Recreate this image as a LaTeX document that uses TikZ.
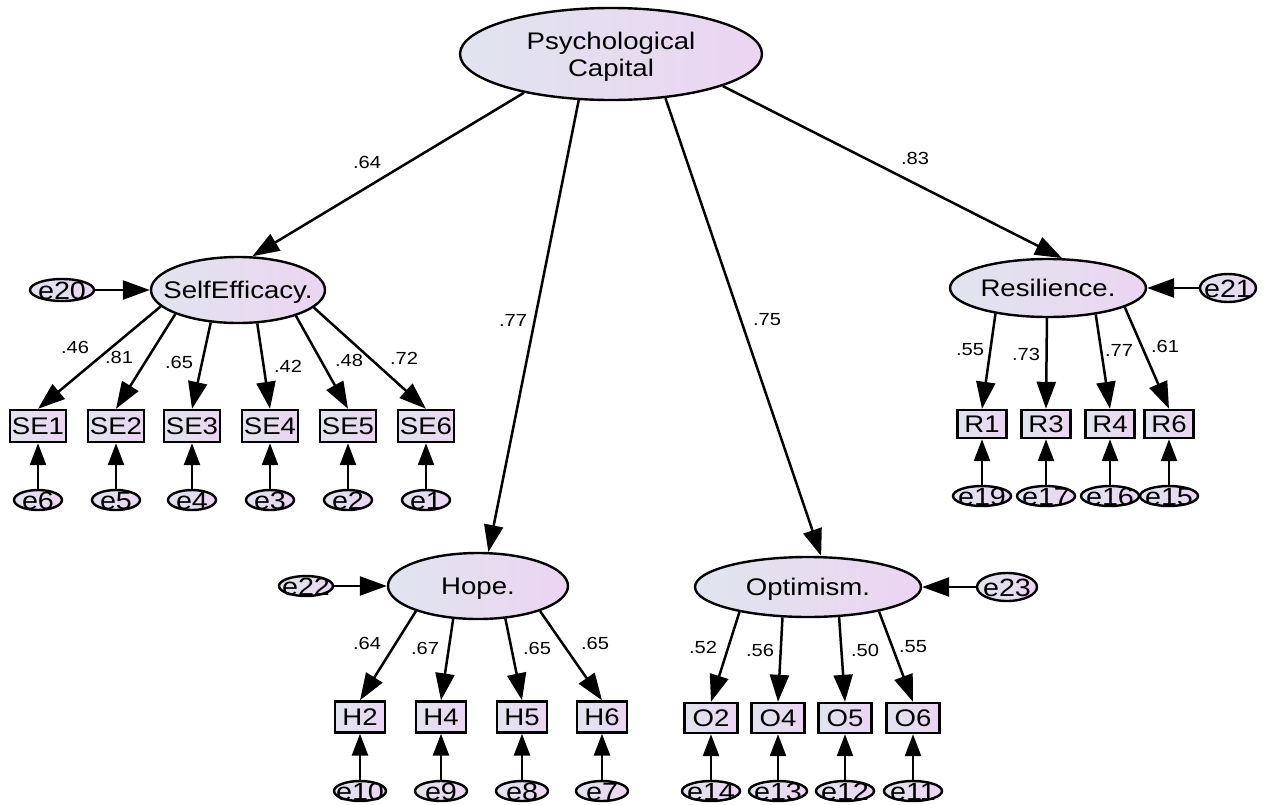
\documentclass[tikz,border=0pt]{standalone}
\usepackage{fontspec}
\setmainfont{Liberation Sans}[FakeStretch=1.15]
\usetikzlibrary{shapes.geometric,arrows.meta}
\definecolor{cA}{RGB}{224,229,238}
\definecolor{cB}{RGB}{236,212,242}
\tikzset{
  grad/.style={left color=cA, right color=cB},
  latlbl/.style={font=\fontsize{24}{24}\selectfont, inner sep=0pt, text height=17pt, text depth=0pt},
  errlbl/.style={font=\fontsize{25}{25}\selectfont, inner sep=0pt, text height=18pt, text depth=0pt},
  lat/.style={ellipse, draw, line width=2.4pt, grad, inner sep=0pt, label={[latlbl]center:#1}},
  err/.style={ellipse, draw, line width=2.4pt, grad, inner sep=0pt, label={[errlbl]center:#1}},
  obs/.style={rectangle, draw, line width=2.4pt, grad, inner sep=0pt, font=\fontsize{24}{24}\selectfont, text height=17pt, text depth=0pt},
  coef/.style={font=\fontsize{17.5}{17.5}\selectfont, inner sep=0pt},
  larr/.style={line width=2.5pt, -{Triangle[length=27pt,width=19pt]}},
  earr/.style={line width=2.5pt, -{Triangle[length=22pt,width=16pt]}},
  seerr/.style={err=#1, minimum width=48pt, minimum height=20pt},
  rerr/.style={err=#1, minimum width=58pt, minimum height=20pt},
  herr/.style={err=#1, minimum width=52pt, minimum height=20pt},
  oerr/.style={err=#1, minimum width=58pt, minimum height=20pt},
  sebox/.style={obs, minimum width=56pt, minimum height=32pt},
  rbox/.style={obs, minimum width=49pt, minimum height=28pt},
  hbox/.style={obs, minimum width=50pt, minimum height=31pt},
  obox/.style={obs, minimum width=53pt, minimum height=30pt}
}
\begin{document}
\begin{tikzpicture}[x=1pt,y=-1pt]
\useasboundingbox (0,0) rectangle (1264,804);
\path[fill=white] (0,0) rectangle (1264,804);

% second-order factor
\node[ellipse, draw, line width=2.4pt, grad, inner sep=0pt, minimum width=302pt, minimum height=92pt,
      label={[font=\fontsize{24}{27}\selectfont, inner sep=0pt, align=center, yshift=-3pt]center:Psychological\\Capital}] (pc) at (611,54) {};

% first-order factors
\node[lat={SelfEfficacy.}, minimum width=174pt, minimum height=66pt] (sef) at (238,290) {};
\node[lat={Resilience.}, minimum width=196pt, minimum height=58pt] (res) at (1048,288) {};
\node[lat={Hope.}, minimum width=180pt, minimum height=66pt] (hope) at (478,586) {};
\node[lat={Optimism.}, minimum width=226pt, minimum height=60pt] (opt) at (808,587) {};

% disturbances
\node[err=e20, minimum width=64pt, minimum height=22pt] (e20) at (62,290) {};
\node[err=e21, minimum width=56pt, minimum height=28pt] (e21) at (1228,288) {};
\node[err=e22, minimum width=54pt, minimum height=20pt] (e22) at (306,586) {};
\node[err=e23, minimum width=60pt, minimum height=28pt] (e23) at (1007,587) {};

% SE indicators
\node[sebox] (SE1) at (38,426) {SE1};
\node[sebox] (SE2) at (116,426) {SE2};
\node[sebox] (SE3) at (192,426) {SE3};
\node[sebox] (SE4) at (270,426) {SE4};
\node[sebox] (SE5) at (348,426) {SE5};
\node[sebox] (SE6) at (426,426) {SE6};
\node[seerr=e6] (e6) at (38,500) {};
\node[seerr=e5] (e5) at (116,500) {};
\node[seerr=e4] (e4) at (192,500) {};
\node[seerr=e3] (e3) at (270,500) {};
\node[seerr=e2] (e2) at (348,500) {};
\node[seerr=e1] (e1) at (426,500) {};

% R indicators
\node[rbox] (R1) at (982,424) {R1};
\node[rbox] (R3) at (1046,424) {R3};
\node[rbox] (R4) at (1110,424) {R4};
\node[rbox] (R6) at (1169,424) {R6};
\node[rerr=e19] (e19) at (982,496) {};
\node[rerr=e17] (e17) at (1046,496) {};
\node[rerr=e16] (e16) at (1110,496) {};
\node[rerr=e15] (e15) at (1169,496) {};

% H indicators
\node[hbox] (H2) at (360,717) {H2};
\node[hbox] (H4) at (441,717) {H4};
\node[hbox] (H5) at (522,717) {H5};
\node[hbox] (H6) at (602,717) {H6};
\node[herr=e10] (e10) at (360,791) {};
\node[herr=e9] (e9) at (441,791) {};
\node[herr=e8] (e8) at (522,791) {};
\node[herr=e7] (e7) at (602,791) {};

% O indicators
\node[obox] (O2) at (711,718) {O2};
\node[obox] (O4) at (778,718) {O4};
\node[obox] (O5) at (845,718) {O5};
\node[obox] (O6) at (913,718) {O6};
\node[oerr=e14] (e14) at (711,791) {};
\node[oerr=e13] (e13) at (778,791) {};
\node[oerr=e12] (e12) at (845,791) {};
\node[oerr=e11] (e11) at (913,791) {};

% second-order paths
\draw[larr] (pc.204) -- (sef.67);
\draw[larr] (pc.235) -- (hope.73);
\draw[larr] (pc.321) -- (opt.67.5);
\draw[larr] (pc.344) -- (res.65);

% disturbance paths
\draw[larr] (e20) -- (sef);
\draw[larr] (e21) -- (res);
\draw[larr] (e22) -- (hope);
\draw[larr] (e23) -- (opt);

% loadings
\draw[larr] (sef.192.5) -- (SE1.north);
\draw[larr] (sef.201) -- (SE2.north);
\draw[larr] (sef.230) -- (SE3.north);
\draw[larr] (sef.300) -- (SE4.north);
\draw[larr] (sef.336) -- (SE5.north);
\draw[larr] (sef.347) -- (SE6.north);

\draw[larr] (res.206.6) -- (R1.north);
\draw[larr] (res.268) -- (R3.north);
\draw[larr] (res.331.4) -- (R4.north);
\draw[larr] (res.346.5) -- (R6.north);

\draw[larr] (hope.202.6) -- (H2.north);
\draw[larr] (hope.233.7) -- (H4.north);
\draw[larr] (hope.310.5) -- (H5.north);
\draw[larr] (hope.338.8) -- (H6.north);

\draw[larr] (opt.200) -- (O2.north);
\draw[larr] (opt.230) -- (O4.north);
\draw[larr] (opt.316) -- (O5.north);
\draw[larr] (opt.341) -- (O6.north);

% error paths
\draw[earr] (e6) -- (SE1);
\draw[earr] (e5) -- (SE2);
\draw[earr] (e4) -- (SE3);
\draw[earr] (e3) -- (SE4);
\draw[earr] (e2) -- (SE5);
\draw[earr] (e1) -- (SE6);
\draw[earr] (e19) -- (R1);
\draw[earr] (e17) -- (R3);
\draw[earr] (e16) -- (R4);
\draw[earr] (e15) -- (R6);
\draw[earr] (e10) -- (H2);
\draw[earr] (e9) -- (H4);
\draw[earr] (e8) -- (H5);
\draw[earr] (e7) -- (H6);
\draw[earr] (e14) -- (O2);
\draw[earr] (e13) -- (O4);
\draw[earr] (e12) -- (O5);
\draw[earr] (e11) -- (O6);

% coefficients
\node[coef] (c1) at (367,162) {.64};
\node[coef] (c2) at (513,320) {.77};
\node[coef] (c3) at (767,320) {.75};
\node[coef] (c4) at (915,158) {.83};

\node[coef] (s1) at (75,347) {.46};
\node[coef] (s2) at (119,357) {.81};
\node[coef] (s3) at (179,362) {.65};
\node[coef] (s4) at (288,366) {.42};
\node[coef] (s5) at (349,360) {.48};
\node[coef] (s6) at (404,358) {.72};

\node[coef] (r1) at (970,350) {.55};
\node[coef] (r3) at (1026,354) {.73};
\node[coef] (r4) at (1119,350) {.77};
\node[coef] (r6) at (1165,346) {.61};

\node[coef] (h2) at (367,643) {.64};
\node[coef] (h4) at (425,648) {.67};
\node[coef] (h5) at (537,648) {.65};
\node[coef] (h6) at (595,643) {.65};

\node[coef] (o2) at (703,647) {.52};
\node[coef] (o4) at (760,650) {.56};
\node[coef] (o5) at (865,650) {.50};
\node[coef] (o6) at (913,647) {.55};
\end{tikzpicture}
\end{document}
